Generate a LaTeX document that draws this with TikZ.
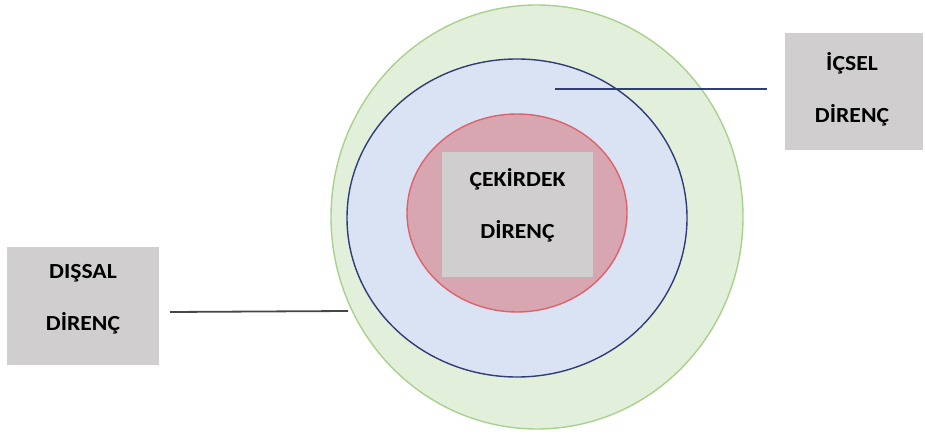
\documentclass[tikz,border=0pt]{standalone}
\usepackage{fontspec}
\setmainfont{Carlito}[FakeStretch=1.1]
\usetikzlibrary{shapes.geometric}
\definecolor{greenfill}{RGB}{226,239,218}
\definecolor{greenline}{RGB}{169,209,142}
\definecolor{bluefill}{RGB}{218,227,243}
\definecolor{blueline}{RGB}{47,61,120}
\definecolor{redfill}{RGB}{215,166,176}
\definecolor{redline}{RGB}{222,98,108}
\definecolor{boxgray}{RGB}{208,206,206}
\definecolor{linegray}{RGB}{70,70,70}
\tikzset{
  ring/.style={ellipse,inner sep=0pt,line width=1.4pt},
  labelbox/.style={rectangle,fill=boxgray,inner sep=0pt},
  labeltext/.style={align=center,font=\fontsize{21.5}{52}\selectfont\bfseries}
}
\begin{document}
\begin{tikzpicture}[x=1pt,y=-1pt]
\useasboundingbox (0,0) rectangle (925,435);
\node[ring,draw=greenline,fill=greenfill,minimum width=412pt,minimum height=424pt] (outer) at (537,217) {};
\node[ring,draw=blueline,fill=bluefill,minimum width=340pt,minimum height=318pt] (middle) at (517,218) {};
\node[ring,draw=redline,fill=redfill,minimum width=220pt,minimum height=198pt] (core) at (517,213) {};

\node[labelbox,minimum width=151pt,minimum height=125pt] (corebox) at (517.5,214.5) {};
\node[labelbox,minimum width=152pt,minimum height=118pt] (outbox) at (83,306) {};
\node[labelbox,minimum width=138pt,minimum height=117pt] (inbox) at (854,91.5) {};

\node[labeltext] (coretext) at (517.5,205) {ÇEKİRDEK\\DİRENÇ};
\node[labeltext] (outtext) at (83,299.5) {DIŞSAL\\DİRENÇ};
\node[labeltext] (intext) at (852,89) {İÇSEL\\DİRENÇ};

\coordinate (outstart) at (170,312);
\coordinate (outend) at (348,311);
\coordinate (instart) at (555,89);
\coordinate (inend) at (767,89);
\draw[linegray,line width=1.8pt] (outstart) -- (outend);
\draw[blueline,line width=1.8pt] (instart) -- (inend);
\end{tikzpicture}
\end{document}
